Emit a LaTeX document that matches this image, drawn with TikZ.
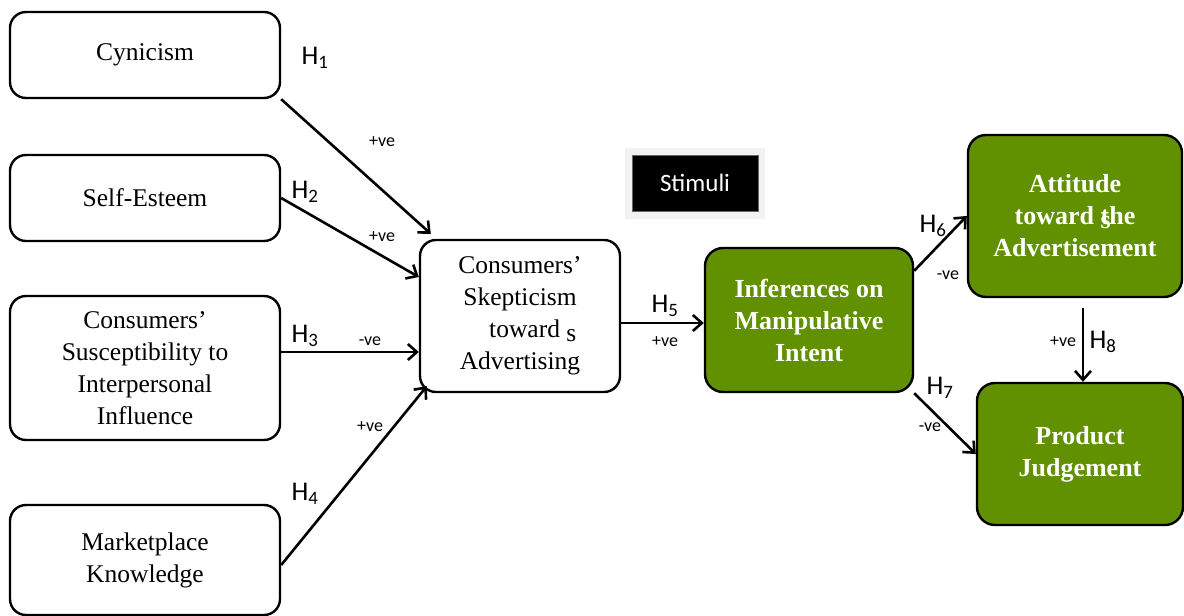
\documentclass[tikz,border=0pt]{standalone}
\usepackage{fontspec}
\setmainfont{Liberation Serif}
\newfontfamily\labelfont{Carlito}
\usetikzlibrary{arrows.meta,positioning}
\definecolor{stimgreen}{RGB}{97,145,0}

\begin{document}
\begin{tikzpicture}[x=1pt,y=-1pt,
  every node/.style={align=center},
  cbox/.style={draw, line width=2.4pt, rounded corners=16pt, minimum width=270pt,
    font=\fontsize{25.5}{32}\selectfont},
  gbox/.style={draw, line width=2.4pt, rounded corners=18pt, fill=stimgreen, text=white,
    font=\fontsize{26}{32}\selectfont\bfseries},
  link/.style={line width=2.6pt, -{Straight Barb[length=9pt,width=16pt,line width=2.6pt]}},
  hyp/.style={font=\labelfont\fontsize{27}{27}\selectfont},
  sign/.style={font=\labelfont\fontsize{18}{18}\selectfont}]

  \useasboundingbox (0,0) rectangle (1184,616);

  % antecedents
  \node[cbox, minimum height=86pt] (cyn) at (145,55) {Cynicism};
  \node[cbox, minimum height=86pt] (self) at (145,198) {Self-Esteem};
  \node[cbox, minimum height=144pt] (susc) at (145,368) {Consumers'\\Susceptibility to\\Interpersonal\\Influence};
  \node[cbox, minimum height=110pt] (market) at (145,560) {Marketplace\\Knowledge};

  \node[cbox, minimum width=200pt, minimum height=152pt] (skep) at (520,316)
    {Consumers'\\Skepticism\\\hspace{1em}toward \raisebox{-4pt}{s}\\Advertising};

  % outcomes
  \node[gbox, minimum width=208pt, minimum height=144pt] (infer) at (809,320) {Inferences on\\Manipulative\\Intent};
  \node[gbox, minimum width=214pt, minimum height=162pt] (att) at (1075,216)
    {Attitude\\toward \rlap{\raisebox{-4pt}{s}}the\\Advertisement};
  \node[gbox, minimum width=206pt, minimum height=142pt] (prod) at (1080,454) {Product\\Judgement};

  \node[fill=black!5, minimum width=140pt, minimum height=71pt] (stimframe) at (695,183) {};
  \node[fill=black, draw=black!60, text=white, minimum width=126pt, minimum height=56pt,
    font=\labelfont\fontsize{25}{25}\selectfont] (stim) at (695,183) {Stimuli};

  \draw[link] (cyn.south east) -- ([xshift=12pt,yshift=5pt]skep.north west);
  \draw[link] (self.east) -- ([yshift=39pt]skep.west);
  \draw[link] ([yshift=16pt]susc.east) -- ([yshift=-36pt]skep.west);
  \draw[link] ([yshift=-5pt]market.east) -- ([xshift=8pt,yshift=7pt]skep.south west);
  \draw[link] ([yshift=-7pt]skep.east) -- ([yshift=-3pt]infer.west);
  \draw[link] ([yshift=-24pt]infer.north east) -- (att.west);
  \draw[link] (infer.south east) -- (prod.west);
  \coordinate (h8) at (1083,308);
  \draw[link] (h8) -- (h8 |- prod.north);

  % hypotheses
  \node[hyp] (h1) at (315,58) {H\textsubscript{1}};
  \node[sign] (s1) at (382,142) {+ve};
  \node[hyp] (h2) at (305,192) {H\textsubscript{2}};
  \node[sign] (s2) at (382,237) {+ve};
  \node[hyp] (h3) at (305,336) {H\textsubscript{3}};
  \node[sign] (s3) at (370,341) {-ve};
  \node[hyp] (h4) at (305,494) {H\textsubscript{4}};
  \node[sign] (s4) at (370,427) {+ve};
  \node[hyp] (h5) at (665,306) {H\textsubscript{5}};
  \node[sign] (s5) at (665,342) {+ve};
  \node[hyp] (h6) at (933,226) {H\textsubscript{6}};
  \node[sign] (s6) at (948,275) {-ve};
  \node[hyp] (h7) at (940,388) {H\textsubscript{7}};
  \node[sign] (s7) at (930,427) {-ve};
  \node[hyp] (h8l) at (1103,342) {H\textsubscript{8}};
  \node[sign] (s8) at (1063,342) {+ve};

\end{tikzpicture}
\end{document}
